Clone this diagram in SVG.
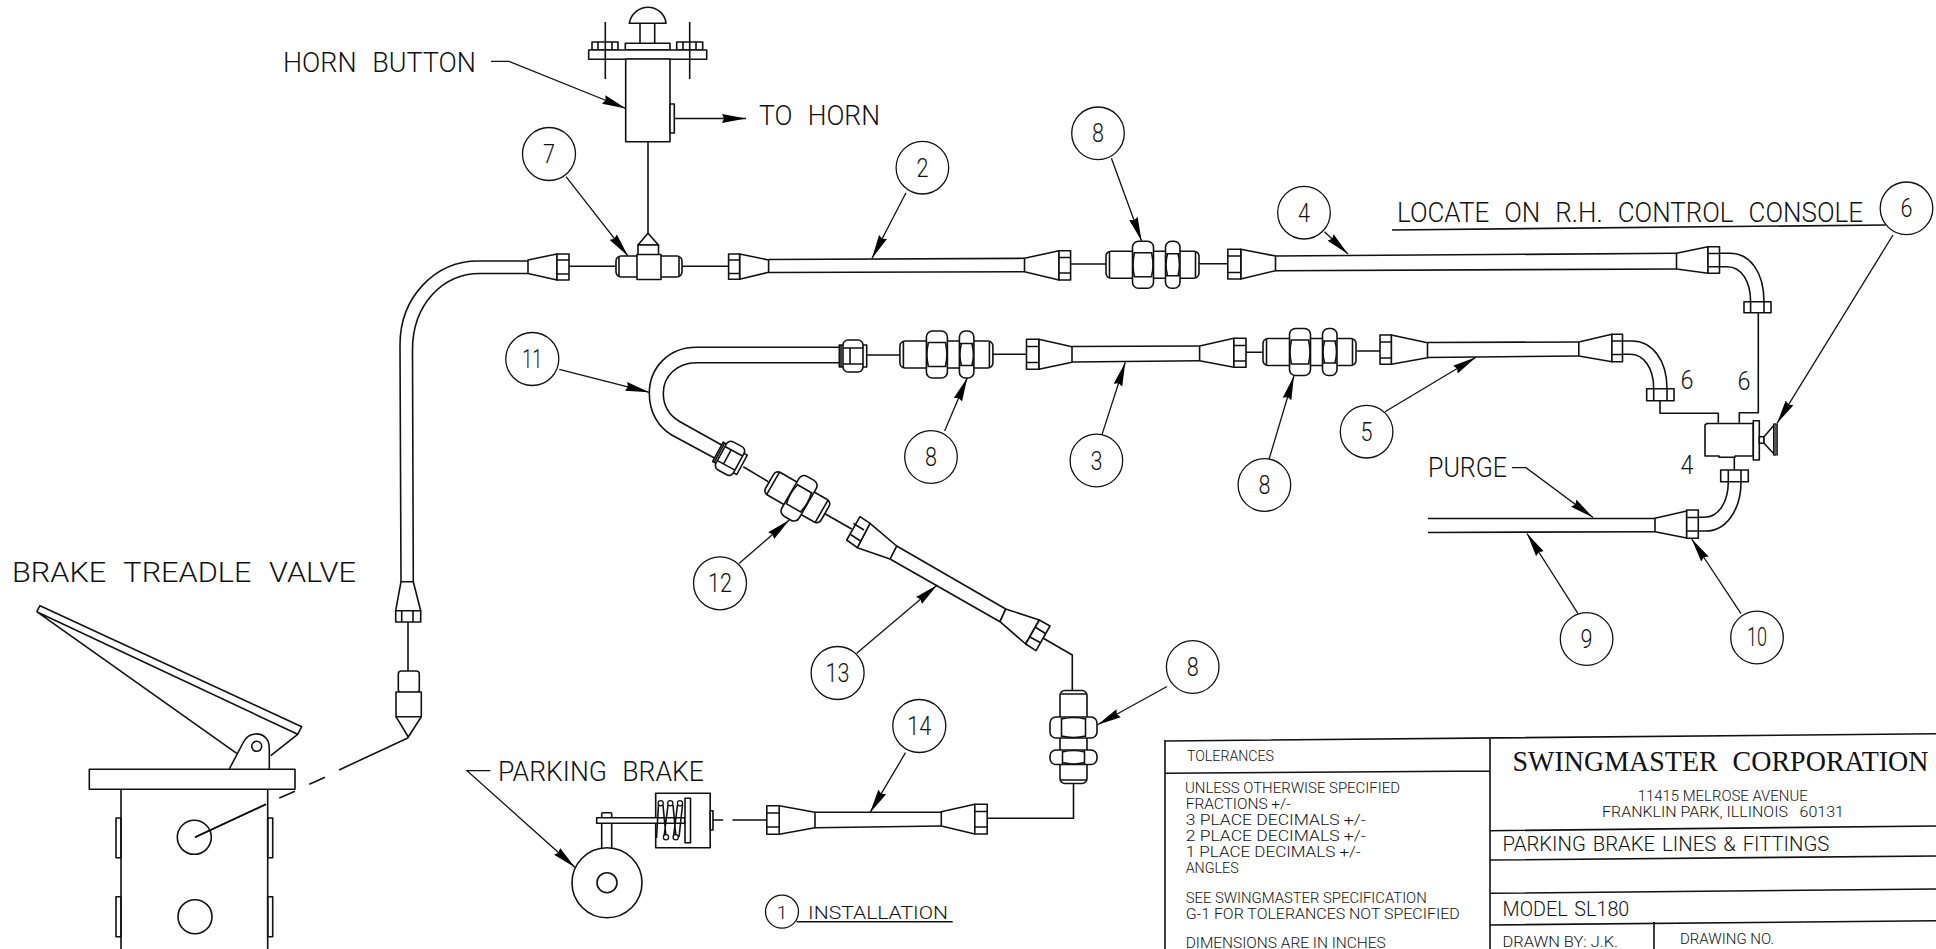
<svg xmlns="http://www.w3.org/2000/svg" width="1936" height="949" viewBox="0 0 1936 949">
<style>
.l{fill:none;stroke:#111;stroke-width:1.6;stroke-linejoin:round}
.w{fill:#fff;stroke:#111;stroke-width:1.6;stroke-linejoin:round}
.c{fill:#fff;stroke:#111;stroke-width:1.3}
.ld{fill:none;stroke:#111;stroke-width:1.3;marker-end:url(#ah)}
text{font-family:"Roboto","Liberation Sans",sans-serif;font-weight:300;fill:#111}
.a{font-size:27px;word-spacing:9px}
.s{font-size:19px}
.n{font-size:25px;text-anchor:middle}
.m{font-size:14px}
.b{font-size:20px;word-spacing:2px}
.t{font-family:"Liberation Serif",serif;font-weight:400;font-size:28.5px;word-spacing:8px}
</style>
<defs>
<marker id="ah" viewBox="0 0 24 10" refX="24" refY="5" markerWidth="24" markerHeight="10" markerUnits="userSpaceOnUse" orient="auto"><path d="M0,0.5 L24,5 L0,9.5 L2,5 Z" fill="#000"/></marker>
<g id="f8">
<rect class="w" x="-46.5" y="-13.5" width="93" height="27" rx="5"/>
<path class="l" d="M-43,-13V13M43,-13V13"/>
<rect class="w" x="-20" y="-23.5" width="21" height="47" rx="6"/>
<path class="l" d="M-19,-12H0M-19,12H0M-18,-12Q-21,0 -18,12M-1,-12Q2,0 -1,12"/>
<rect class="w" x="13" y="-23.5" width="14.5" height="47" rx="6"/>
<path class="l" d="M13.5,-11H27M13.5,11H27M15,-11Q12,0 15,11M25.5,-11Q28.5,0 25.5,11"/>
</g>
<g id="n11">
<rect class="w" x="-13.7" y="-11" width="27.4" height="22"/>
<rect class="w" x="-10" y="-16" width="20" height="32" rx="5"/>
<path class="l" d="M-10,-8H10M-10,8H10M-3,-8V8M-12,-11V11"/>
</g>
</defs>

<g id="connectors">
<path class="l" d="M648,142V233"/>
<path class="l" d="M569,266.3H616M682,266.3H728.6"/>
<path class="l" d="M1070.6,264H1106M1199,263.7H1227.8"/>
<path class="l" d="M408,622V671"/>
<path class="l" d="M408.3,737.7L339,770M325,777.3L309.3,784.3M295,791.3L279.3,798M266,804.3L195,837.3"/>
<path class="l" d="M866,355H900M992.7,354.3H1026.5M1246,352.3H1262.4M1357,351H1380"/>
<path class="l" d="M743.3,466.7L768.3,481.7M824,513.3L851.7,529"/>
<path class="l" d="M1043.3,638.3L1072.3,655V690M1073.5,784V818.3H987.2"/>
<path class="l" d="M712.6,820H723.2M732.4,820H766.8"/>
<path class="l" d="M1758.3,312.7V412.7H1739.3V422.7M1660,400.7V413.3H1718.3V422.7M1734.3,456.7V470"/>
<path class="ld" d="M491,61.3H509L626,108.5"/>
<path class="ld" d="M674,118.5H746"/>
<path class="ld" d="M566,176.7L628,256"/>
<path class="ld" d="M906,192.7L872,258.3"/>
<path class="ld" d="M1111.4,158.3L1141.6,241"/>
<path class="ld" d="M1324.5,231.7L1348,254"/>
<path class="ld" d="M1893,235L1777,423.3"/>
<path class="ld" d="M559.3,369.3L649.3,392.3"/>
<path class="ld" d="M944.6,431L967.3,377.7"/>
<path class="ld" d="M1102,434.6L1125.3,362.3"/>
<path class="ld" d="M1269,459.3L1293.9,376"/>
<path class="ld" d="M1385,411.7L1476,357.3"/>
<path class="ld" d="M1512,467.7H1526L1593,517.5"/>
<path class="ld" d="M1578,613.6L1527,533.5"/>
<path class="ld" d="M1741,613.6L1691.7,539"/>
<path class="ld" d="M739.3,563.3L789.3,520"/>
<path class="ld" d="M856.7,653.3L937.3,585"/>
<path class="ld" d="M1167,686.5L1097.6,724.8"/>
<path class="ld" d="M905.5,752.7L870,812.7"/>
<path class="ld" d="M490.4,770.7H467L574.9,867.3"/>
<path class="l" d="M1392,230L1885.6,225"/>
<path class="l" d="M796.6,921.7H952.7"/>
</g>

<g id="horn-button">
<path class="l" d="M629.3,23.3C631,13 640,7.3 648,7.3C656,7.3 665,13 666,23.3Z"/>
<path class="l" d="M640,23.3V43.3M654.7,23.3V43.3"/>
<rect class="w" x="625.3" y="43.3" width="44.7" height="6.7"/>
<rect class="w" x="592" y="42" width="26" height="8"/>
<rect class="w" x="676.7" y="42" width="26" height="8"/>
<rect class="w" x="588.7" y="50" width="118" height="9.3"/>
<rect class="w" x="625.7" y="59" width="44.3" height="82.7"/>
<rect class="w" x="670" y="104" width="4.3" height="29"/>
<path class="l" d="M605.3,22V79M689.7,22V79M598,42V50M612,42V50M683,42V50M696,42V50"/>
</g>

<g id="tee">
<path class="l" d="M648,233.3L638,245H658.5Z"/>
<rect class="w" x="638" y="245" width="20.5" height="10"/>
<rect class="w" x="616" y="256" width="66" height="21" rx="5"/>
<path class="l" d="M619,257V276M679,257V276"/>
<rect class="w" x="637" y="254.5" width="24" height="25"/>
</g>

<g id="tube-1">
<path class="l" d="M528,261H478C436,261 400,296 400,345L401,581.7M528,273.5H480C443,273.5 412.5,304 412.5,350L413.3,581.7"/>
<path class="w" d="M528,260L557,254V280L528,273.5Z"/>
<rect class="w" x="557" y="254" width="12" height="26"/>
<path class="l" d="M557,260H569M557,274H569"/>
<path class="w" d="M401,581.7L395.7,610.7H420.7L413.3,581.7Z"/>
<rect class="w" x="395.7" y="610.7" width="25" height="11.3"/>
<path class="l" d="M401.7,610.7V622M413,610.7V622"/>
</g>

<g id="valve-fitting">
<rect class="w" x="398.3" y="671" width="21" height="21.5" rx="3"/>
<rect class="w" x="396" y="692" width="25.3" height="24.7"/>
<path class="l" d="M396,716.7L408.3,737L421.3,716.7"/>
</g>

<g id="tube-2">
<path class="l" d="M768.6,259.5L1024.5,258.3M768.6,272.5L1024.5,271.7"/>
<path class="w" d="M739.6,254L768.6,260V272.3L739.6,279.3Z"/>
<rect class="w" x="728.6" y="254" width="11" height="25.3"/>
<path class="l" d="M728.6,260H739.6M728.6,273.5H739.6"/>
<path class="w" d="M1024.5,258.3L1059,250.7V280L1024.5,271.7Z"/>
<rect class="w" x="1059" y="250.7" width="11.6" height="29.3"/>
<path class="l" d="M1059,257.5H1070.6M1059,273H1070.6"/>
</g>

<use id="fitting-8a" href="#f8" transform="translate(1152.5,264.7)"/>

<g id="tube-4">
<path class="l" d="M1275.5,256L1676.5,253.3M1275.5,270.7L1676.5,269"/>
<path class="w" d="M1240.8,249.3L1275.5,256V270.7L1240.8,279Z"/>
<rect class="w" x="1227.8" y="249.3" width="13" height="29.7"/>
<path class="l" d="M1227.8,256H1240.8M1227.8,272.5H1240.8"/>
<path class="w" d="M1676.5,253.3L1708,246.7V273.3L1676.5,269Z"/>
<rect class="w" x="1708" y="246.7" width="11.5" height="26.6"/>
<path class="l" d="M1708,253.5H1719.5M1708,266.7H1719.5"/>
<path class="l" d="M1719.5,253.3H1730C1750,253.3 1764,272 1764,301.7M1719.5,266.7H1727C1742,266.7 1750.6,282 1750.6,301.7"/>
<rect class="w" x="1744" y="301.7" width="27" height="11"/>
<path class="l" d="M1750.6,301.7V312.7M1764,301.7V312.7"/>
</g>

<g id="tube-11">
<path class="l" d="M840,347.3H696.7C668,347.3 649.3,368 649.3,393.3C649.3,412 658,427 671.7,435L716.7,459.3M840,362.7H696.7C677,362.7 663.3,376 663.3,393.3C663.3,406 670,416 680,421.7L721.7,445"/>
<use href="#n11" transform="translate(853,356)"/>
<use href="#n11" transform="translate(730,458.3) rotate(28.4)"/>
</g>

<use id="fitting-8b" href="#f8" transform="translate(946.4,354.5)"/>

<g id="tube-3">
<path class="l" d="M1072,346.5L1199.6,346M1072,362L1199.6,360.7"/>
<path class="w" d="M1038.8,339.3L1072,346.7V362.3L1038.8,369.3Z"/>
<rect class="w" x="1026.5" y="339.3" width="12.3" height="30"/>
<path class="l" d="M1026.5,346.5H1038.8M1026.5,362.5H1038.8"/>
<path class="w" d="M1199.6,346L1233.9,338.3V367.3L1199.6,360.7Z"/>
<rect class="w" x="1233.9" y="338.3" width="12.1" height="29"/>
<path class="l" d="M1233.9,345.5H1246M1233.9,361H1246"/>
</g>

<use id="fitting-8c" href="#f8" transform="translate(1309.5,352)"/>

<g id="tube-5">
<path class="l" d="M1427.5,342.5L1578.8,342M1427.5,357.5L1578.8,356"/>
<path class="w" d="M1391.3,335L1427.5,342.7V357.7L1391.3,364.3Z"/>
<rect class="w" x="1380" y="335" width="11.3" height="29.3"/>
<path class="l" d="M1380,342H1391.3M1380,358H1391.3"/>
<path class="w" d="M1578.8,342L1611.9,334.3V361.7L1578.8,356Z"/>
<rect class="w" x="1611.9" y="334.3" width="10.6" height="27.4"/>
<path class="l" d="M1611.9,341H1622.5M1611.9,354.5H1622.5"/>
<path class="l" d="M1622.5,341H1632C1652,341 1667,360 1667,388.7M1622.5,354.3H1630C1644,354.3 1653.7,368 1653.7,388.7"/>
<rect class="w" x="1646.7" y="388.7" width="27.3" height="12"/>
<path class="l" d="M1653.7,388.7V400.7M1667,388.7V400.7"/>
</g>

<g id="control-valve">
<path class="w" d="M1707,423.5H1753.3V456H1735V457.3H1719V456H1705V425Z"/>
<rect class="w" x="1753.3" y="420.7" width="6" height="39.3"/>
<rect class="w" x="1759.3" y="436.7" width="4.7" height="6.6"/>
<path class="w" d="M1764,436.7L1775,424V455L1764,443.3Z"/>
<rect x="1773.5" y="424" width="3.8" height="31" fill="#555" stroke="#111" stroke-width="1"/>
</g>

<g id="tube-9-10">
<path class="l" d="M1428,518.5H1655M1428,532.5L1655,531.7"/>
<path class="w" d="M1655,518.3L1686.7,511V538L1655,531.7Z"/>
<rect class="w" x="1686.7" y="510" width="11.6" height="28.3"/>
<path class="l" d="M1686.7,517.5H1698.3M1686.7,531H1698.3"/>
<path class="l" d="M1698.3,517.3H1704C1720,517.3 1728.3,500 1728.3,481.7M1698.3,531H1706C1726,531 1741,510 1741,481.7"/>
<rect class="w" x="1720.7" y="470" width="27.6" height="11.7"/>
<path class="l" d="M1728.3,470V481.7M1741,470V481.7"/>
</g>

<g id="fitting-12" transform="translate(797.3,497.3) rotate(30)">
<rect class="w" x="-32" y="-13" width="64" height="26" rx="5"/>
<path class="l" d="M-28,-13V13M28,-13V13"/>
<rect class="w" x="-8" y="-23" width="20" height="46" rx="6"/>
<path class="l" d="M-7,-11H11M-7,11H11M-6,-11Q-9,0 -6,11M10,-11Q13,0 10,11"/>
</g>

<g id="tube-13">
<path class="l" d="M896.7,546L1005.7,609M890,559L1000,621.7M896.7,546L890,559M1005.7,609L1000,621.7"/>
<path class="w" d="M870,523.3L896.7,546L890,559L857.3,547.7Z"/>
<path class="w" d="M860,516.7L870,523.3L857.3,547.7L846.7,540Z"/>
<path class="l" d="M853.5,523.5L864,530M850.5,534.5L860.5,541"/>
<path class="w" d="M1005.7,609L1039.3,620L1025.7,644L1000,621.7Z"/>
<path class="w" d="M1039.3,620L1050,626L1036,650.7L1025.7,644Z"/>
<path class="l" d="M1035,627L1045.5,633.5M1030,637L1041,643"/>
</g>

<use id="fitting-8d" href="#f8" transform="translate(1073.5,737) rotate(90)"/>

<g id="tube-14">
<path class="l" d="M815,812.3H941.3M815,827.7L941.3,826"/>
<path class="w" d="M779.2,805.7L815,812.3V827.7L779.2,834.3Z"/>
<rect class="w" x="766.8" y="805.7" width="12.4" height="28.6"/>
<path class="l" d="M766.8,813H779.2M766.8,827H779.2"/>
<path class="w" d="M941.3,811.7L974.8,804.3V834L941.3,826Z"/>
<rect class="w" x="974.8" y="804.3" width="12.4" height="29.7"/>
<path class="l" d="M974.8,811.5H987.2M974.8,827H987.2"/>
</g>

<g id="parking-brake">
<rect class="w" x="601.7" y="812.7" width="10" height="40" rx="1"/>
<circle class="w" cx="607" cy="882.7" r="35"/>
<circle class="l" cx="607" cy="882.7" r="10"/>
<rect class="w" x="655.7" y="793.3" width="54.5" height="54.5"/>
<rect class="w" x="596.7" y="817.7" width="88" height="5.6"/>
<rect class="w" x="685" y="798.3" width="5.5" height="44.4"/>
<rect class="w" x="710.2" y="810.7" width="2.8" height="19.3"/>
<path class="l" d="M658.5,805L656.5,838M663,805L666,837M668,805L664,837M673,805L676,837M677.5,805L673.5,837M682.5,805L679,837"/>
<circle class="c" cx="660.7" cy="803.3" r="2.6"/>
<circle class="c" cx="670.3" cy="803.3" r="2.6"/>
<circle class="c" cx="680" cy="803.3" r="2.6"/>
<circle class="c" cx="666" cy="837.3" r="2.6"/>
<circle class="c" cx="675.7" cy="837.3" r="2.6"/>
</g>

<g id="brake-treadle-valve">
<path class="l" d="M36.7,611.7L40,605.7L301.7,726.7L297.7,734.3L36.7,611.7M36.7,611.7L236.7,753.3M297.7,734.3L270.7,755.7"/>
<path class="w" d="M229.3,769L243.5,742C248,733 262,730 268,741C269.5,744 269.3,748 269.3,750V769"/>
<circle class="l" cx="256.7" cy="746.3" r="5"/>
<path class="l" d="M121,789.3V949M267.7,789.3V949"/>
<rect class="w" x="89.3" y="769.3" width="205.7" height="20"/>
<path class="l" d="M121,818V857.7H116V818ZM121,896.7V936.7H116V896.7ZM267.7,818H272.7V857.7H267.7ZM267.7,896.7H272.7V936.7H267.7Z"/>
<circle class="l" cx="194.3" cy="837.3" r="17"/>
<circle class="l" cx="195" cy="916.7" r="17"/>
<path class="l" d="M195,837.3L266,804.3"/>
</g>

<g id="balloon-7"><circle class="c" cx="549" cy="154" r="26.5"/><text class="n" x="549" y="163" textLength="12" lengthAdjust="spacingAndGlyphs">7</text></g>
<g id="balloon-2"><circle class="c" cx="922.4" cy="167.7" r="26.3"/><text class="n" x="922.4" y="176.5" textLength="12" lengthAdjust="spacingAndGlyphs">2</text></g>
<g id="balloon-8-top"><circle class="c" cx="1098" cy="133.3" r="26.3"/><text class="n" x="1098" y="142" textLength="12" lengthAdjust="spacingAndGlyphs">8</text></g>
<g id="balloon-4"><circle class="c" cx="1304" cy="212.7" r="26.3"/><text class="n" x="1304" y="221.5" textLength="12" lengthAdjust="spacingAndGlyphs">4</text></g>
<g id="balloon-6"><circle class="c" cx="1906.5" cy="208.3" r="26.3"/><text class="n" x="1906.5" y="217" textLength="12" lengthAdjust="spacingAndGlyphs">6</text></g>
<g id="balloon-11"><circle class="c" cx="532.3" cy="359" r="26.5"/><text class="n" x="532.3" y="367.5" textLength="20" lengthAdjust="spacingAndGlyphs">11</text></g>
<g id="balloon-8a"><circle class="c" cx="931" cy="457" r="26.3"/><text class="n" x="931" y="466" textLength="12" lengthAdjust="spacingAndGlyphs">8</text></g>
<g id="balloon-3"><circle class="c" cx="1096.4" cy="460.5" r="26.3"/><text class="n" x="1096.4" y="469.5" textLength="12" lengthAdjust="spacingAndGlyphs">3</text></g>
<g id="balloon-8b"><circle class="c" cx="1264.4" cy="485" r="26.3"/><text class="n" x="1264.4" y="494" textLength="12" lengthAdjust="spacingAndGlyphs">8</text></g>
<g id="balloon-5"><circle class="c" cx="1366.6" cy="431.7" r="26.3"/><text class="n" x="1366.6" y="440.5" textLength="12" lengthAdjust="spacingAndGlyphs">5</text></g>
<g id="balloon-9"><circle class="c" cx="1586.6" cy="639" r="26.3"/><text class="n" x="1586.6" y="648" textLength="12" lengthAdjust="spacingAndGlyphs">9</text></g>
<g id="balloon-10"><circle class="c" cx="1757" cy="637.5" r="26.3"/><text class="n" x="1757" y="646" textLength="20" lengthAdjust="spacingAndGlyphs">10</text></g>
<g id="balloon-12"><circle class="c" cx="720" cy="583.3" r="26.5"/><text class="n" x="720" y="592" textLength="24" lengthAdjust="spacingAndGlyphs">12</text></g>
<g id="balloon-13"><circle class="c" cx="837.6" cy="673" r="26.5"/><text class="n" x="837.6" y="682" textLength="24" lengthAdjust="spacingAndGlyphs">13</text></g>
<g id="balloon-14"><circle class="c" cx="919.3" cy="726" r="26.5"/><text class="n" x="919.3" y="735" textLength="24" lengthAdjust="spacingAndGlyphs">14</text></g>
<g id="balloon-8d"><circle class="c" cx="1192.7" cy="667" r="26.3"/><text class="n" x="1192.7" y="676" textLength="12" lengthAdjust="spacingAndGlyphs">8</text></g>
<g id="balloon-1"><circle class="c" cx="782" cy="911.7" r="16.5"/><text class="s" x="782" y="918.5" text-anchor="middle">1</text></g>

<g id="labels">
<text class="a" x="283" y="72" textLength="193" lengthAdjust="spacingAndGlyphs">HORN BUTTON</text>
<text class="a" x="759" y="125" textLength="121" lengthAdjust="spacingAndGlyphs">TO HORN</text>
<text class="a" x="1397" y="221.7" textLength="466" lengthAdjust="spacingAndGlyphs">LOCATE ON R.H. CONTROL CONSOLE</text>
<text class="a" x="12" y="582" textLength="344" lengthAdjust="spacingAndGlyphs">BRAKE TREADLE VALVE</text>
<text class="a" x="498" y="780.7" textLength="206" lengthAdjust="spacingAndGlyphs">PARKING BRAKE</text>
<text class="a" x="1428" y="476.7" textLength="79" lengthAdjust="spacingAndGlyphs">PURGE</text>
<text class="s" x="808" y="918.5" textLength="140" lengthAdjust="spacingAndGlyphs">INSTALLATION</text>
<text class="n" x="1687" y="388.5" textLength="13" lengthAdjust="spacingAndGlyphs">6</text>
<text class="n" x="1744" y="390" textLength="13" lengthAdjust="spacingAndGlyphs">6</text>
<text class="n" x="1687" y="474" textLength="13" lengthAdjust="spacingAndGlyphs">4</text>
</g>

<g id="title-block">
<path class="l" d="M1165,741L1936,733.7M1165,773.3L1490,771M1165,740V949M1490,738V949M1490,830.7L1936,826M1490,860L1936,856M1490,893.3L1936,889M1490,925L1936,920.7M1654,922V949"/>
<text class="m" x="1187" y="760.7" textLength="87" lengthAdjust="spacingAndGlyphs">TOLERANCES</text>
<text class="m" x="1185" y="792.5" textLength="215" lengthAdjust="spacingAndGlyphs">UNLESS OTHERWISE SPECIFIED</text>
<text class="m" x="1185.7" y="808.5" textLength="105" lengthAdjust="spacingAndGlyphs">FRACTIONS +/-</text>
<text class="m" x="1185.7" y="824.5" textLength="180" lengthAdjust="spacingAndGlyphs">3 PLACE DECIMALS +/-</text>
<text class="m" x="1185.7" y="840.5" textLength="180" lengthAdjust="spacingAndGlyphs">2 PLACE DECIMALS +/-</text>
<text class="m" x="1185.7" y="856.5" textLength="175" lengthAdjust="spacingAndGlyphs">1 PLACE DECIMALS +/-</text>
<text class="m" x="1185.7" y="873" textLength="53" lengthAdjust="spacingAndGlyphs">ANGLES</text>
<text class="m" x="1185.7" y="903" textLength="241" lengthAdjust="spacingAndGlyphs">SEE SWINGMASTER SPECIFICATION</text>
<text class="m" x="1185.7" y="919" textLength="274" lengthAdjust="spacingAndGlyphs">G-1 FOR TOLERANCES NOT SPECIFIED</text>
<text class="m" x="1185.7" y="947.5" textLength="200" lengthAdjust="spacingAndGlyphs">DIMENSIONS ARE IN INCHES</text>
<text class="t" x="1512.5" y="770.7" textLength="416" lengthAdjust="spacingAndGlyphs">SWINGMASTER CORPORATION</text>
<text class="m" x="1637.7" y="801" textLength="170" lengthAdjust="spacingAndGlyphs">11415 MELROSE AVENUE</text>
<text class="m" x="1602" y="817.3" textLength="242" lengthAdjust="spacingAndGlyphs" xml:space="preserve">FRANKLIN PARK, ILLINOIS   60131</text>
<text class="b" x="1502.6" y="850.7" textLength="326.7" lengthAdjust="spacingAndGlyphs">PARKING BRAKE LINES &amp; FITTINGS</text>
<text class="b" x="1502.6" y="916" textLength="126.7" lengthAdjust="spacingAndGlyphs">MODEL SL180</text>
<text class="m" x="1502.6" y="946.7" textLength="115.4" lengthAdjust="spacingAndGlyphs">DRAWN BY: J.K.</text>
<text class="m" x="1680" y="944" textLength="94" lengthAdjust="spacingAndGlyphs">DRAWING NO.</text>
</g>
</svg>
